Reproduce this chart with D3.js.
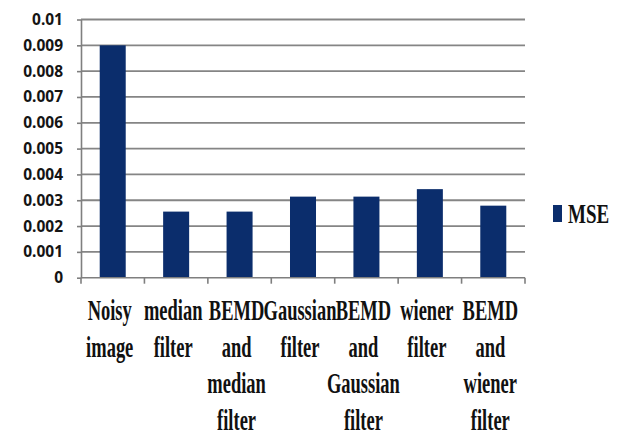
<!DOCTYPE html>
<html>
<head>
<meta charset="utf-8">
<script src="https://cdn.jsdelivr.net/npm/d3@7"></script>
<style>
  body { margin: 0; background: #fff; }
  .axis path, .axis line { stroke: #7f7f7f; stroke-width: 1.6; }
  .cat-label, .legend-label { font-family: "Liberation Serif", "Times New Roman", serif; font-weight: bold; fill: #111; }
</style>
</head>
<body>
<svg id="chart"></svg>
<script>
// Chart data
const categories = ["Noisy image", "median filter", "BEMD and median filter", "Gaussian filter",
    "BEMD and Gaussian filter", "wiener filter", "BEMD and wiener filter"];
// wrapped label lines, as they appear under each bar
const labelLines = [
    ["Noisy", "image"],
    ["median", "filter"],
    ["BEMD", "and", "median", "filter"],
    ["Gaussian", "filter"],
    ["BEMD", "and", "Gaussian", "filter"],
    ["wiener", "filter"],
    ["BEMD", "and", "wiener", "filter"]
];
const mseValues = [0.009, 0.00256, 0.00256, 0.00314, 0.00314, 0.00343, 0.00279];
const yTicks = [0, 0.001, 0.002, 0.003, 0.004, 0.005, 0.006, 0.007, 0.008, 0.009, 0.01];
const seriesName = "MSE";

const width = 622, height = 435;
const margin = {top: 20, left: 81, right: 97, bottom: 157};
const barColor = "#0b2d6c";

const svg = d3.select("#chart")
    .attr("width", width)
    .attr("height", height);

const xScale = d3.scaleBand()
    .domain(categories)
    .range([margin.left, width - margin.right])
    .padding(0);

const yScale = d3.scaleLinear()
    .domain([0, 0.01])
    .range([height - margin.bottom - 0.3, margin.top - 0.5]);

// Horizontal gridlines
svg.append("g")
    .selectAll("line")
    .data(yTicks.slice(1))
    .join("line")
    .attr("x1", margin.left)
    .attr("x2", width - margin.right)
    .attr("y1", d => yScale(d))
    .attr("y2", d => yScale(d))
    .attr("stroke", "#858585")
    .attr("stroke-width", 1.8);

// Bars
const barFrac = 0.41;
svg.append("g")
    .selectAll("rect")
    .data(mseValues)
    .join("rect")
    .attr("x", (d, i) => xScale(categories[i]) + xScale.bandwidth() * (1 - barFrac) / 2)
    .attr("width", xScale.bandwidth() * barFrac)
    .attr("y", d => yScale(d))
    .attr("height", d => yScale(0) - yScale(d))
    .attr("fill", barColor);

// Y axis
const yAxis = d3.axisLeft(yScale)
    .tickValues(yTicks)
    .tickFormat(d => d === 0 ? "0" : d3.format("")(+d.toFixed(3)))
    .tickSize(4)
    .tickSizeOuter(0)
    .tickPadding(14);
const yAxisG = svg.append("g")
    .attr("class", "axis y-axis")
    .attr("transform", `translate(${margin.left},0)`)
    .call(yAxis);
yAxisG.selectAll("text")
    .attr("font-family", "'Noto Sans', sans-serif")
    .attr("font-weight", "bold")
    .attr("font-size", 15.5)
    .attr("fill", "#141414");

// X axis: line with ticks at category boundaries
const xAxisG = svg.append("g").attr("class", "axis x-axis");
xAxisG.append("line")
    .attr("x1", margin.left)
    .attr("x2", width - margin.right)
    .attr("y1", yScale(0))
    .attr("y2", yScale(0));
const boundaries = categories.map(c => xScale(c)).concat([width - margin.right]);
xAxisG.selectAll(".xtick")
    .data(boundaries)
    .join("line")
    .attr("class", "xtick")
    .attr("x1", d => d)
    .attr("x2", d => d)
    .attr("y1", yScale(0))
    .attr("y2", yScale(0) + 6);

// Category labels (vertically stretched serif like the original)
const lineGap = 36.7;
const firstBaseline = 320;
const stretch = 1.55;
labelLines.forEach((lines, i) => {
    const cx = xScale(categories[i]) + xScale.bandwidth() / 2 - 3;
    lines.forEach((ln, j) => {
        const by = firstBaseline + j * lineGap;
        svg.append("text")
            .attr("class", "cat-label")
            .attr("text-anchor", "middle")
            .attr("font-size", 18.5)
            .attr("transform", `translate(${cx},${by}) scale(1,${stretch})`)
            .text(ln);
    });
});

// Legend
const legend = svg.append("g").attr("transform", "translate(553,205)");
legend.append("rect")
    .attr("width", 9)
    .attr("height", 17)
    .attr("fill", barColor);
legend.append("text")
    .attr("class", "legend-label")
    .attr("font-size", 19)
    .attr("transform", `translate(15,18) scale(1,1.4)`)
    .text(seriesName);
</script>
</body>
</html>
